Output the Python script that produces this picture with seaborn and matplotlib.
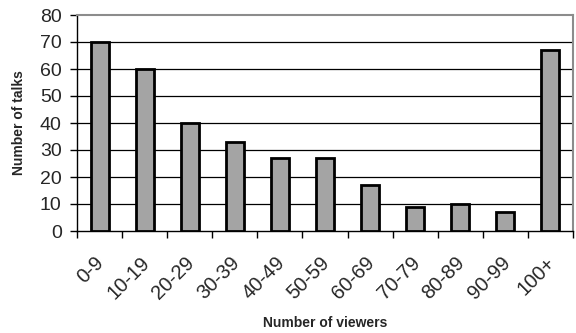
import matplotlib
matplotlib.use("Agg")
import matplotlib.pyplot as plt
import matplotlib.transforms as mtransforms
import seaborn as sns
import pandas as pd

categories = ["0-9", "10-19", "20-29", "30-39", "40-49", "50-59",
              "60-69", "70-79", "80-89", "90-99", "100+"]
talks = [70, 60, 40, 33, 27, 27, 17, 9, 10, 7, 67]
y_ticks = [0, 10, 20, 30, 40, 50, 60, 70, 80]

sns.set_style("white")
plt.rcParams["font.family"] = ["Liberation Sans", "DejaVu Sans"]

df = pd.DataFrame({"viewers": categories, "talks": talks})

fig = plt.figure(figsize=(5.76, 3.33), dpi=100)
ax = fig.add_axes([77 / 576, 1 - 231 / 333, (573 - 77) / 576, (231 - 15) / 333])

sns.barplot(data=df, x="viewers", y="talks", order=categories, color="#a4a4a4",
            saturation=1, width=0.4, edgecolor="black", linewidth=2, ax=ax, zorder=3)

ax.set_ylim(0, 80)
ax.set_xlim(-0.5, len(categories) - 0.5)
ax.set_yticks(y_ticks)
ax.set_yticklabels([str(v) for v in y_ticks], fontsize=14)

# horizontal gridlines
for v in y_ticks[1:-1]:
    ax.axhline(v, color="black", linewidth=0.9, zorder=1)

# category ticks sit between bars
ax.set_xticks([i - 0.5 for i in range(len(categories) + 1)], minor=False)
ax.set_xticklabels([""] * (len(categories) + 1))
ax.tick_params(axis="x", which="major", direction="out", length=5, width=1, color="black", bottom=True)
ax.tick_params(axis="y", which="major", direction="out", length=5, width=1, color="black", left=True, pad=6)
ax.set_xticks(range(len(categories)), minor=True)
ax.set_xticklabels(categories, minor=True, rotation=45, ha="right", va="top",
                   rotation_mode="anchor", fontsize=14.5)
ax.tick_params(axis="x", which="minor", length=0, pad=0)
shift = mtransforms.ScaledTranslation(-5 / 100, -22 / 100, fig.dpi_scale_trans)
for lbl in ax.get_xticklabels(minor=True):
    lbl.set_transform(lbl.get_transform() + shift)

for side in ["left", "bottom"]:
    ax.spines[side].set_color("black")
    ax.spines[side].set_linewidth(1)
for side in ["top", "right"]:
    ax.spines[side].set_color("#8c8c8c")
    ax.spines[side].set_linewidth(1.5)

ax.set_ylabel("Number of talks", fontsize=10, fontweight="bold")
ax.set_xlabel("Number of viewers", fontsize=10, fontweight="bold")

# axis titles at fixed positions relative to the plot area
ax.yaxis.set_label_coords((19 - 77) / (573 - 77), 0.5)
ax.xaxis.set_label_coords(0.5, (231 - 323) / (231 - 15))
ax.yaxis.label.set_va("center")
ax.xaxis.label.set_va("center")

fig.savefig("out.png", dpi=100)
